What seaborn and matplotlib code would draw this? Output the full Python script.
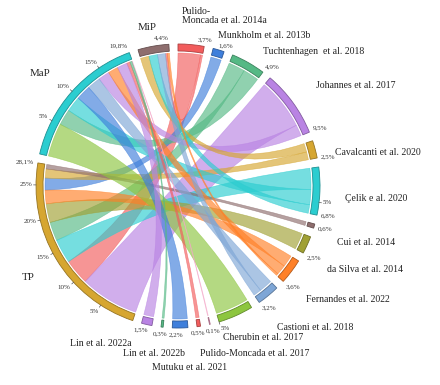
import numpy as np
import matplotlib
matplotlib.use("Agg")
import matplotlib.pyplot as plt
from matplotlib.patches import Wedge, PathPatch
from matplotlib.path import Path
import seaborn as sns

sns.set_theme(style="white")
plt.rcParams["font.family"] = ["Liberation Serif", "DejaVu Serif"]

# studies, clockwise from the top (shares of the whole circle, %)
studies = ["Pulido-\nMoncada et al. 2014a", "Munkholm et al. 2013b", "Tuchtenhagen  et al. 2018",
           "Johannes et al. 2017", "Cavalcanti et al. 2020", "Çelik e al. 2020", "Cui et al. 2014",
           "da Silva et al. 2014", "Fernandes et al. 2022", "Castioni et al. 2018",
           "Cherubin et al. 2017", "Pulido-Moncada et al. 2017", "Mutuku et al. 2021",
           "Lin et al. 2022b", "", "Lin et al. 2022a"]
study_pct = [3.7, 1.6, 4.9, 9.5, 2.5, 6.8, 0.6, 2.5, 3.6, 3.2, 5.0, 0.1, 0.5, 2.2, 0.3, 1.5]

groups = ["TP", "MaP", "MiP"]
group_pct = [28.1, 19.8, 4.4]

# links study -> group
to_tp = [3.4, 1.6, 2.5, 7.8, 1.2, 3.2, 0.6, 2.5, 1.8, 0, 0, 0, 0, 0, 0, 0]
to_map = [0, 0, 2.4, 1.7, 0, 2.3, 0, 0, 1.5, 2.0, 5.0, 0.1, 0.5, 2.2, 0.3, 1.5]
to_mip = [0.3, 0, 0, 0, 1.3, 1.3, 0, 0, 0.3, 1.2, 0, 0, 0, 0, 0, 0]

pal = ["#F25C5C", "#3F7FDB", "#55B985", "#B983E3", "#D6A630", "#2BCDD0",
       "#8E6E6E", "#A0A033", "#FF8027", "#7EA6D6", "#8DC63F", "#F4A6C8"]

names = studies + groups
pct = study_pct + group_pct
n = len(names)
colors = sns.color_palette(pal, n)

gap = 3.7
scale = (360 - n * gap) / sum(pct)
start = []
a = 90.0
for v in pct:
    start.append(a)
    a -= v * scale + gap
end = [s - v * scale for s, v in zip(start, pct)]

r_out, r_in, r_rib = 142, 135, 133

fig = plt.figure(figsize=(4.4, 3.85), dpi=100)
ax = fig.add_axes([0, 0, 1, 1])
ax.set_xlim(-178, 262)
ax.set_ylim(-199, 186)
ax.set_aspect("equal")
ax.axis("off")

# ribbon end segments per node, biggest first, clockwise
flows = np.array([to_tp, to_map, to_mip]).T
links = [(i, j) for i in range(len(studies)) for j in range(len(groups)) if flows[i, j] > 0]
node_links = {k: [] for k in range(n)}
for (i, j) in links:
    node_links[i].append((flows[i, j], (i, j)))
    node_links[len(studies) + j].append((flows[i, j], (i, j)))
seg = {}
for k, lst in node_links.items():
    lst.sort(key=lambda t: -t[0])
    tot = sum(f for f, _ in lst)
    span = start[k] - end[k]
    cur = start[k]
    for f, lk in lst:
        w = f / tot * span
        seg[(k, lk)] = (cur, cur - w)
        cur -= w


def arc_pts(a1, a2, r, m=30):
    t = np.radians(np.linspace(a1, a2, m))
    return list(zip(r * np.cos(t), r * np.sin(t)))


for (i, j) in links:
    a1, a2 = seg[(i, (i, j))]
    b1, b2 = seg[(len(studies) + j, (i, j))]
    pa = arc_pts(a1, a2, r_rib)
    pb = arc_pts(b1, b2, r_rib)
    verts = pa + [(0, 0), pb[0]] + pb[1:] + [(0, 0), pa[0], pa[0]]
    codes = ([Path.MOVETO] + [Path.LINETO] * (len(pa) - 1) + [Path.CURVE3, Path.CURVE3]
             + [Path.LINETO] * (len(pb) - 1) + [Path.CURVE3, Path.CURVE3, Path.CLOSEPOLY])
    c = colors[i]
    ax.add_patch(PathPatch(Path(verts, codes), facecolor=c, alpha=0.65,
                           edgecolor=c, lw=0.4, zorder=1))

tick_nodes = {"TP", "MaP", "Çelik e al. 2020", "Cherubin et al. 2017"}
bottom_labels = []


def put_label(ang, txt, r=r_out + 4, size=5.0):
    c, s = np.cos(np.radians(ang)), np.sin(np.radians(ang))
    if s < -0.9:
        ha = "center"
    else:
        ha = "left" if c > 0.45 else ("right" if c < -0.02 else "center")
    va = "bottom" if s > 0.35 else ("top" if s < -0.35 else "center")
    t = ax.text(r * c, r * s, txt, ha=ha, va=va, fontsize=size, color="#333333", zorder=4)
    if s < -0.9:
        bottom_labels.append(t)


for k in range(n):
    dark = tuple(0.7 * np.array(colors[k]))
    ax.add_patch(Wedge((0, 0), r_out, end[k], start[k], width=r_out - r_in,
                       facecolor=colors[k], edgecolor=dark, lw=0.6, zorder=3))
    v = pct[k]
    if names[k] in tick_nodes:
        for t in range(5, int(v) + 1, 5):
            ang = start[k] - t * scale
            cc, ss = np.cos(np.radians(ang)), np.sin(np.radians(ang))
            ax.plot([r_out * cc, (r_out + 2.5) * cc], [r_out * ss, (r_out + 2.5) * ss],
                    color="#555555", lw=0.5, zorder=3)
            put_label(ang, f"{t}%")
    if abs(v - round(v / 5) * 5) > 1e-9 or v < 5:
        put_label(end[k], f"{v:.1f}%".replace(".", ","))

# push apart the crowded labels under the bottom arcs
fig.canvas.draw()
rend = fig.canvas.get_renderer()
bottom_labels.sort(key=lambda t: t.get_position()[0])
prev_x1 = None
for t in bottom_labels:
    bb = t.get_window_extent(rend)
    if prev_x1 is not None and bb.x0 < prev_x1 + 0.5:
        dx = prev_x1 + 0.5 - bb.x0
        x, y = t.get_position()
        t.set_position((x + dx, y))
        bb = t.get_window_extent(rend)
    prev_x1 = bb.x1

# name labels (pixel positions of the left edge / vertical centre)
name_xy = [(182, 16), (218, 36), (263, 52), (316, 85), (335, 152), (345, 198), (337, 242),
           (327, 269), (306, 299), (277, 327), (223, 338), (200, 353), (152, 367),
           (123, 353), None, (70, 343), (22, 278), (30, 74), (138, 27)]
for k in range(n):
    if not names[k] or name_xy[k] is None:
        continue
    px, py = name_xy[k]
    size = 7.8 if names[k] in groups else 7
    ax.text(px - 178, 186 - py, names[k], ha="left", va="center", fontsize=size,
            color="#222222", linespacing=1.05, zorder=4)

fig.savefig("out.png", dpi=100)
